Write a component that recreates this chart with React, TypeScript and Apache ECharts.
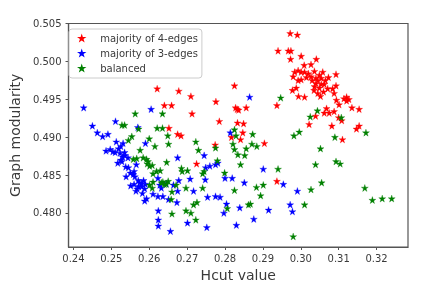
import React, { useEffect, useRef } from "react";
import * as echarts from "echarts";

const xTicks = [0.24, 0.25, 0.26, 0.27, 0.28, 0.29, 0.3, 0.31, 0.32];
const yTicks = [0.48, 0.485, 0.49, 0.495, 0.5, 0.505];
const seriesNames = ["majority of 4-edges", "majority of 3-edges", "balanced"];
const seriesColors = ["#ff0000", "#0000ff", "#008000"];

const fourEdges = [
  [.2621,.4964],[.2678,.4961],[.2710,.4954],[.2776,.4947],[.2640,.4942],[.2659,.4942],[.2713,.4931],[.2785,.4921],[.2652,.4912],
  [.2972,.5037],[.2991,.5035],[.2940,.5014],[.2967,.5014],[.2974,.5014],[.3001,.5007],[.2973,.5003],[.3041,.5003],[.3009,.4995],[.3027,.4996],[.3093,.4983],
  [.2993,.4988],[.2984,.4986],[.2980,.4980],[.3001,.4986],[.3010,.4986],[.3020,.4984],[.3036,.4987],[.3058,.4986],[.3049,.4982],[.3027,.4980],
  [.3001,.4976],[.2993,.4975],[.3045,.4975],[.3054,.4978],[.3073,.4979],[.3040,.4971],[.3062,.4970],[.3054,.4970],[.3036,.4967],[.3049,.4965],
  [.3071,.4964],[.3093,.4968],[.3084,.4964],[.3088,.4958],[.2978,.4962],[.2988,.4965],[.3045,.4958],[.3052,.4954],[.2994,.4954],[.3010,.4953],
  [.2825,.4968],[.3094,.4949],[.3121,.4953],[.3114,.4951],[.3127,.4950],[.3121,.4948],[.3101,.4943],[.3135,.4939],[.3154,.4937],[.2937,.4942],
  [.2828,.4939],[.2832,.4937],[.2836,.4936],[.2856,.4939],[.3068,.4938],[.3062,.4932],[.3075,.4932],[.3088,.4934],[.3039,.4928],[.3100,.4926],
  [.3108,.4922],[.3022,.4917],[.3082,.4915],[.2833,.4919],[.2849,.4918],[.3147,.4911],[.3154,.4915],[.2847,.4906],[.2817,.4900],[.2841,.4897],
  [.3110,.4897],[.2904,.4892],[.2937,.4842],[.2675,.4904],[.2684,.4902],[.2774,.4890],[.2725,.4865],
  [.3015,.4979],[.3030,.4975],[.3065,.4975],[.3040,.4978],[.3035,.4962],[.3060,.4960],
];

const threeEdges = [
  [.2427,.4939],[.2605,.4937],[.2450,.4915],[.2511,.4921],[.2570,.4913],[.2865,.4953],[.2814,.4906],
  [.2463,.4906],[.2477,.4901],[.2491,.4904],[.2513,.4894],[.2531,.4892],[.2590,.4892],[.2486,.4882],[.2497,.4884],[.2504,.4881],[.2519,.4885],
  [.2523,.4879],[.2536,.4876],[.2530,.4874],[.2544,.4873],[.2517,.4866],[.2528,.4868],[.2538,.4861],[.2545,.4860],[.2566,.4864],[.2675,.4873],
  [.2745,.4876],[.2749,.4860],[.2760,.4862],[.2775,.4864],[.2781,.4866],[.2558,.4851],[.2539,.4848],[.2562,.4848],[.2571,.4843],[.2580,.4839],
  [.2551,.4836],[.2568,.4832],[.2580,.4835],[.2588,.4832],[.2565,.4829],[.2582,.4826],[.2593,.4819],[.2588,.4816],[.2610,.4825],[.2623,.4822],
  [.2636,.4822],[.2651,.4818],[.2673,.4814],[.2623,.4846],[.2628,.4837],[.2632,.4833],[.2645,.4839],[.2678,.4843],[.2708,.4845],[.2664,.4837],
  [.2675,.4829],[.2717,.4829],[.2748,.4844],[.2754,.4821],[.2775,.4822],[.2787,.4821],[.2624,.4803],[.2624,.4791],[.2624,.4783],[.2656,.4776],
  [.2701,.4787],[.2752,.4781],[.2901,.4858],[.2800,.4846],[.2819,.4846],[.2851,.4840],[.2954,.4838],[.2991,.4829],[.2804,.4812],[.2839,.4807],
  [.2797,.4800],[.2915,.4804],[.2972,.4811],[.2978,.4802],[.2876,.4792],[.2830,.4784],
  [.2575,.4840],[.2585,.4843],[.2560,.4838],[.2590,.4838],[.2572,.4835],[.2560,.4855],[.2550,.4853],[.2525,.4888],[.2510,.4880],[.2525,.4870],[.2535,.4880],
];

const balanced = [
  [.2563,.4931],[.2635,.4931],[.2528,.4916],[.2535,.4916],[.2572,.4911],[.2621,.4912],[.2635,.4912],
  [.2947,.4952],[.3044,.4935],[.3025,.4927],[.3107,.4926],[.2825,.4910],[.2873,.4904],[.2996,.4907],[.2982,.4902],[.3090,.4900],[.3172,.4906],[.2829,.4902],
  [.2554,.4901],[.2545,.4896],[.2600,.4898],[.2615,.4888],[.2651,.4891],[.2649,.4902],[.2576,.4883],[.2567,.4872],[.2558,.4871],[.2584,.4873],
  [.2593,.4871],[.2597,.4868],[.2601,.4862],[.2608,.4863],[.2610,.4852],[.2619,.4855],[.2629,.4856],[.2646,.4867],[.2685,.4859],[.2687,.4855],
  [.2701,.4856],[.2723,.4894],[.2730,.4883],[.2775,.4886],[.2780,.4869],[.2745,.4855],[.2741,.4852],[.2610,.4841],[.2601,.4837],[.2608,.4833],
  [.2636,.4841],[.2645,.4838],[.2640,.4838],[.2671,.4837],[.2660,.4828],[.2658,.4818],[.2697,.4833],[.2741,.4833],[.2726,.4814],[.2717,.4811],
  [.2660,.4799],[.2697,.4803],[.2710,.4800],[.2723,.4791],[.2821,.4891],[.2825,.4884],[.2856,.4885],[.2871,.4891],[.2884,.4888],[.3052,.4885],
  [.2834,.4877],[.2852,.4876],[.2841,.4864],[.3039,.4864],[.3093,.4868],[.3104,.4865],[.2940,.4858],[.2799,.4853],[.3055,.4840],[.2901,.4837],
  [.2883,.4834],[.2825,.4830],[.3027,.4831],[.3169,.4833],[.2894,.4823],[.3189,.4817],[.3215,.4819],[.3240,.4819],[.3010,.4811],[.2862,.4811],
  [.2867,.4812],[.2806,.4806],[.2980,.4769],
  [.2632,.4840],[.2650,.4842],[.2595,.4865],
];

const star = "path://M0,-10 L2.245,-3.09 L9.511,-3.09 L3.633,1.18 L5.878,8.09 L0,3.82 L-5.878,8.09 L-3.633,1.18 L-9.511,-3.09 L-2.245,-3.09 Z";
const axisGrey = "#555555";
const textGrey = "#3a3a3a";
const font = "DejaVu Sans";

export default function App() {
  const ref = useRef<HTMLDivElement>(null);
  useEffect(() => {
    document.body.style.margin = "0";
    const chart = echarts.init(ref.current!, undefined, { renderer: "svg" });
    const axisCommon = {
      type: "value" as const,
      splitLine: { show: false },
      nameLocation: "middle" as const,
      axisLine: { show: true, lineStyle: { color: axisGrey, width: 1.2 } },
      nameTextStyle: { fontFamily: font, fontSize: 14, color: textGrey },
    };
    chart.setOption({
      animation: false,
      backgroundColor: "#ffffff",
      grid: { left: 64.5, right: 32, top: 23.5, bottom: 47, show: true, borderColor: axisGrey, borderWidth: 1.2, backgroundColor: "transparent" },
      xAxis: {
        ...axisCommon,
        min: 0.2387,
        max: 0.3283,
        name: "Hcut value",
        nameGap: 20,
        axisTick: { show: true, length: 3, customValues: xTicks, lineStyle: { color: axisGrey } },
        axisLabel: { customValues: xTicks, formatter: (v: number) => v.toFixed(2), fontFamily: font, fontSize: 10, color: textGrey, margin: 6 },
      },
      yAxis: {
        ...axisCommon,
        min: 0.47551,
        max: 0.505,
        name: "Graph modularity",
        nameGap: 42,
        axisTick: { show: true, length: 3, customValues: yTicks, lineStyle: { color: axisGrey } },
        axisLabel: { customValues: yTicks, formatter: (v: number) => v.toFixed(3), fontFamily: font, fontSize: 10, color: textGrey, margin: 7 },
      },
      legend: {
        show: true,
        selectedMode: false,
        orient: "vertical",
        left: 69,
        top: 29,
        data: seriesNames,
        padding: [4, 4, 5, 8],
        itemWidth: 27,
        itemHeight: 9,
        itemGap: 5,
        itemStyle: { borderWidth: 0 },
        borderColor: "#cccccc",
        borderWidth: 1,
        borderRadius: 3,
        backgroundColor: "rgba(255,255,255,0.8)",
        textStyle: { fontFamily: font, fontSize: 10, color: textGrey },
      },
      series: [fourEdges, threeEdges, balanced].map((data, i) => ({
        type: "scatter",
        name: seriesNames[i],
        data,
        symbol: star,
        symbolSize: 7,
        itemStyle: { color: seriesColors[i], opacity: 1, borderColor: seriesColors[i], borderWidth: 0.3 },
      })),
    });
    return () => chart.dispose();
  }, []);
  return <div ref={ref} style={{ width: 440, height: 294, filter: "blur(0.35px)" }} />;
}
